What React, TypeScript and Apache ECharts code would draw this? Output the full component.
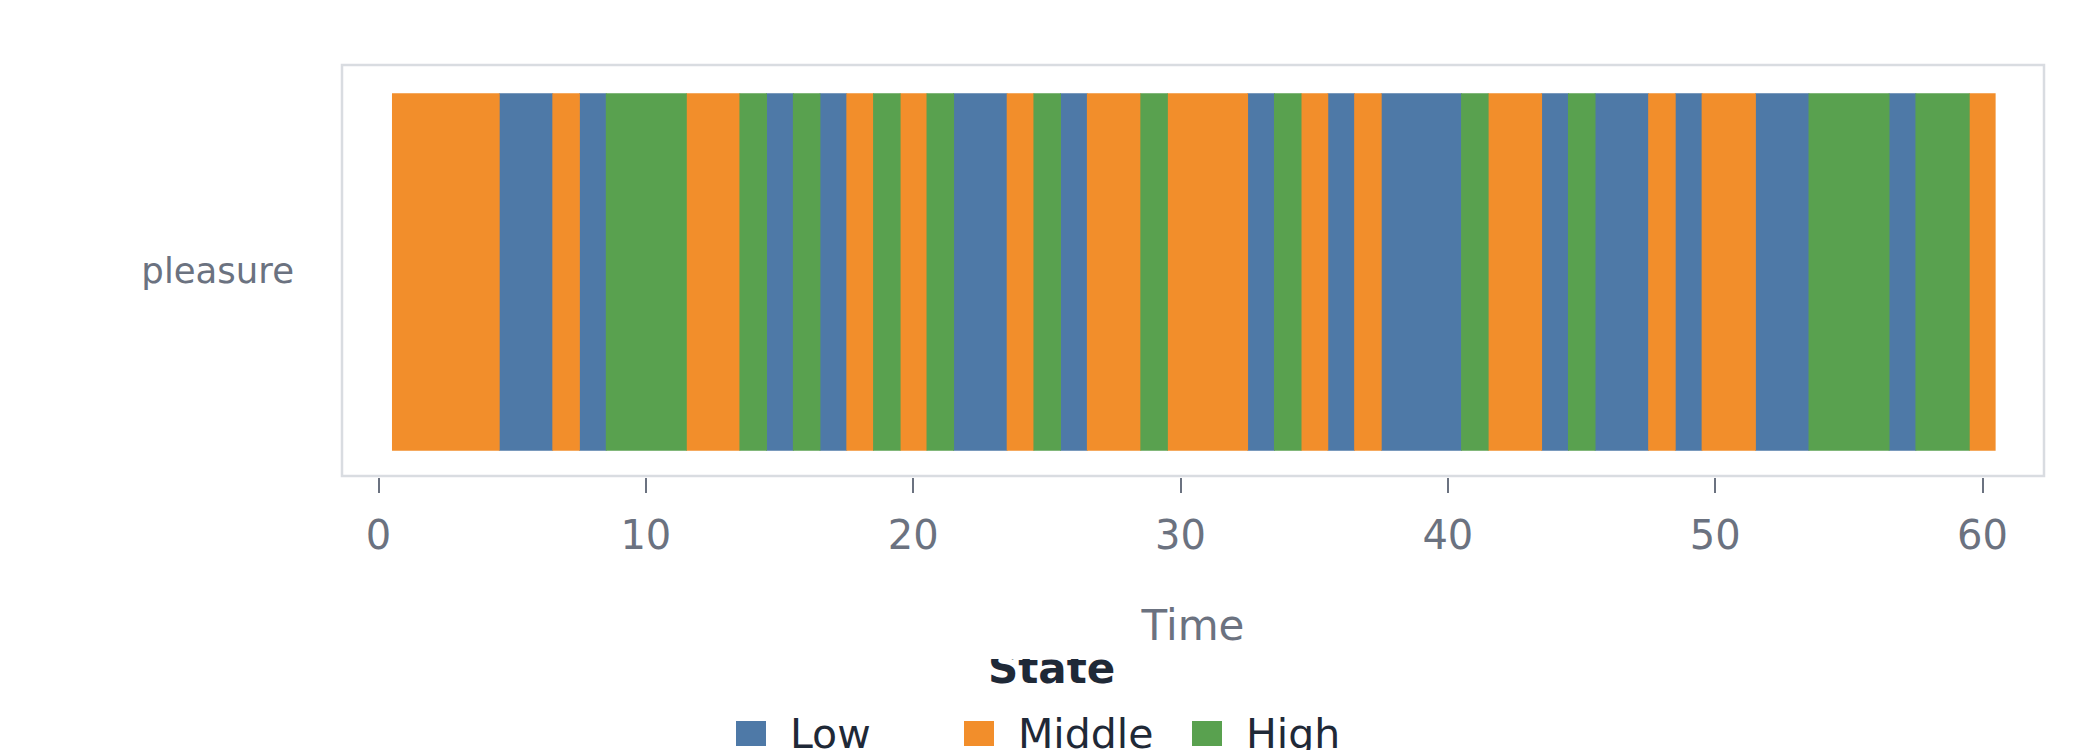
import React, { useEffect, useRef } from "react";
import * as echarts from "echarts";

const categories = ["pleasure"];
const stateNames = ["Low", "Middle", "High"];
const stateColors = ["#4e79a7", "#f28e2b", "#59a14f"];
// runs of consecutive time steps with the same state (inclusive)
const runStart = [1, 5, 7, 8, 9, 12, 14, 15, 16, 17, 18, 19, 20, 21, 22, 24, 25, 26, 27, 29, 30, 33, 34, 35, 36, 37, 38, 41, 42, 44, 45, 46, 48, 49, 50, 52, 54, 57, 58, 60];
const runEnd = [4, 6, 7, 8, 11, 13, 14, 15, 16, 17, 18, 19, 20, 21, 23, 24, 25, 26, 28, 29, 32, 33, 34, 35, 36, 37, 40, 41, 43, 44, 45, 47, 48, 49, 51, 53, 56, 57, 59, 60];
const runState = ["Middle", "Low", "Middle", "Low", "High", "Middle", "High", "Low", "High", "Low", "Middle", "High", "Middle", "High", "Low", "Middle", "High", "Low", "Middle", "High", "Middle", "Low", "High", "Middle", "Low", "Middle", "Low", "High", "Middle", "Low", "High", "Low", "Middle", "Low", "Middle", "Low", "High", "Low", "High", "Middle"];
const xMin = 0;
const xMax = 60;
const xInterval = 10;

const FONT = "DejaVu Sans";
const GRAY = "#6b7280";
const DARK = "#1f2937";

export default function App() {
  const ref = useRef<HTMLDivElement>(null);
  useEffect(() => {
    if (!ref.current) return;
    const chart = echarts.init(ref.current, undefined, { renderer: "svg" });

    const series = stateNames.map((name, si) => ({
      type: "custom",
      name,
      xAxisIndex: 0,
      yAxisIndex: 0,
      itemStyle: { color: stateColors[si] },
      encode: { x: [0, 1], y: 2 },
      data: runStart
        .map((s, i) => ({ s, e: runEnd[i], st: runState[i] }))
        .filter((r) => r.st === name)
        .map((r) => [r.s - 0.5, r.e + 0.5, 0]),
      renderItem: (params: any, api: any) => {
        const p0 = api.coord([api.value(0), api.value(2)]);
        const p1 = api.coord([api.value(1), api.value(2)]);
        const h = api.size([0, 1])[1] * 0.87;
        const isLast = api.value(1) >= xMax;
        return {
          type: "rect",
          shape: { x: p0[0], y: p0[1] - h / 2 + 1.5, width: p1[0] - p0[0] + (isLast ? 0 : 0.8), height: h },
          style: { fill: api.visual("color") },
        };
      },
    }));

    const legendLefts = [736, 964, 1192];
    const legends = stateNames.map((name, i) => ({
      data: [name],
      left: legendLefts[i],
      top: 713,
      padding: 0,
      itemWidth: 30,
      itemHeight: 25,
      icon: "rect",
      selectedMode: false,
      textStyle: {
        fontFamily: FONT,
        fontSize: 41,
        color: DARK,
        lineHeight: 25,
        padding: [0, 0, 0, 19],
      },
    }));

    chart.setOption({
      animation: false,
      backgroundColor: "#ffffff",
      grid: [
        { left: 342, top: 65, width: 1702, height: 411, show: true, borderColor: "#d9dce1", borderWidth: 2.5, backgroundColor: "transparent" },
        { left: 378.5, top: 65, width: 1604, height: 413, show: false },
      ],
      xAxis: [
        {
          type: "value",
          gridIndex: 0,
          min: -1.37,
          max: 62.31,
          axisLine: { show: false },
          axisTick: { show: false },
          axisLabel: { show: false },
          splitLine: { show: false },
          name: "Time",
          nameLocation: "middle",
          nameGap: 128,
          nameTextStyle: { fontFamily: FONT, fontSize: 42, color: GRAY, verticalAlign: "top" },
        },
        {
          type: "value",
          gridIndex: 1,
          min: xMin,
          max: xMax,
          interval: xInterval,
          axisLine: { show: false },
          axisTick: { show: true, length: 15, lineStyle: { color: GRAY, width: 2 } },
          axisLabel: { fontFamily: FONT, fontSize: 40, color: GRAY, margin: 37 },
          splitLine: { show: false },
        },
      ],
      yAxis: [
        {
          type: "category",
          gridIndex: 0,
          data: categories,
          axisLine: { show: false },
          axisTick: { show: false },
          axisLabel: { fontFamily: FONT, fontSize: 35.5, color: GRAY, margin: 48 },
          splitLine: { show: false },
        },
        { type: "value", gridIndex: 1, show: false },
      ],
      legend: legends,
      graphic: [
        {
          type: "text",
          left: 988,
          top: 647,
          style: { text: "State", fontFamily: FONT, fontSize: 42, fontWeight: "bold", fill: DARK },
        },
        {
          type: "rect",
          shape: { x: 975, y: 600, width: 150, height: 59 },
          style: { fill: "#ffffff" },
        },
      ],
      series,
    });
    return () => chart.dispose();
  }, []);
  return <div ref={ref} style={{ position: "fixed", left: 0, top: 0, width: 2100, height: 750 }} />;
}
